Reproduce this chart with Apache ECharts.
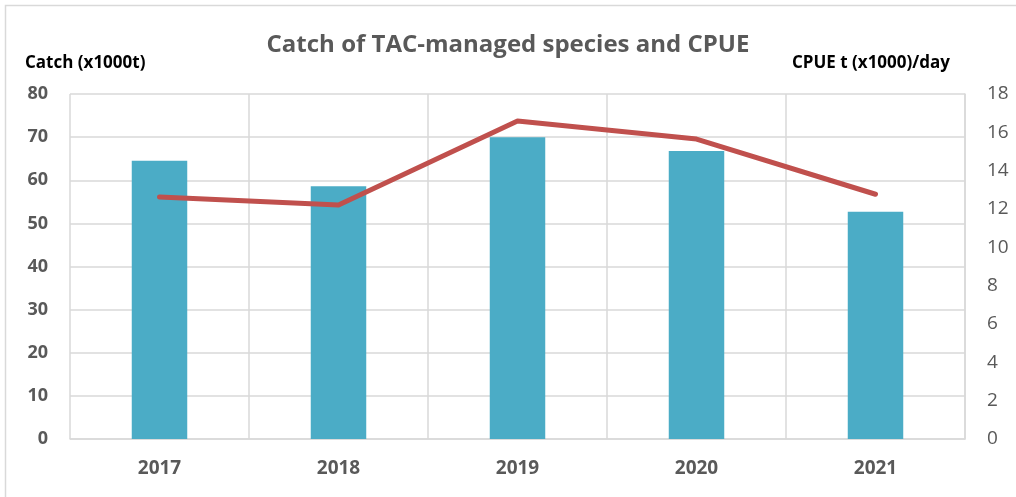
<!DOCTYPE html>
<html>
<head>
<meta charset="utf-8">
<script src="https://cdn.jsdelivr.net/npm/echarts@6/dist/echarts.min.js"></script>
<style>
  html, body { margin: 0; padding: 0; background: #fff; }
  #chart { width: 1016px; height: 497px; }
</style>
</head>
<body>
<div id="chart"></div>
<script>
const years = ['2017', '2018', '2019', '2020', '2021']
const catchValues = [64.5, 58.6, 70.0, 66.8, 52.7]
const cpueValues = [12.63, 12.21, 16.59, 15.65, 12.77]

const font = '"Open Sans", "Liberation Sans", sans-serif'

let myChart = echarts.init(document.getElementById('chart'))
myChart.setOption({
  animation: false,
  title: {
    text: 'Catch of TAC-managed species and CPUE',
    left: 'center',
    top: 28,
    textStyle: {
      fontFamily: font,
      fontSize: 24,
      fontWeight: 'bold',
      color: '#595959'
    }
  },
  graphic: [{
    type: 'rect',
    shape: { x: 5.5, y: 5.5, width: 1030, height: 520 },
    style: { fill: 'none', stroke: '#d9d9d9', lineWidth: 1.5 }
  }],
  grid: {
    left: 70,
    right: 51,
    top: 94,
    bottom: 58
  },
  xAxis: {
    type: 'category',
    data: years,
    axisLine: { lineStyle: { color: '#d9d9d9', width: 1.5 } },
    axisTick: { show: false },
    splitLine: { show: true, lineStyle: { color: '#d9d9d9', width: 1.5 } },
    axisLabel: {
      margin: 20,
      fontFamily: font,
      fontSize: 19,
      fontWeight: 'bold',
      color: '#595959'
    }
  },
  yAxis: [{
    type: 'value',
    min: 0,
    max: 80,
    interval: 10,
    name: 'Catch (x1000t)',
    nameLocation: 'end',
    nameGap: 22,
    nameTextStyle: {
      align: 'left',
      padding: [0, 0, 0, -45],
      fontFamily: font,
      fontSize: 17,
      fontWeight: 'bold',
      color: '#000'
    },
    axisLine: { show: false },
    axisTick: { show: false },
    splitLine: { lineStyle: { color: '#d9d9d9', width: 1.5 } },
    axisLabel: {
      margin: 22,
      fontFamily: font,
      fontSize: 18,
      fontWeight: 'bold',
      color: '#595959'
    }
  }, {
    type: 'value',
    min: 0,
    max: 18,
    interval: 2,
    name: 'CPUE t (x1000)/day',
    nameLocation: 'end',
    nameGap: 22,
    nameTextStyle: {
      align: 'right',
      padding: [0, 15, 0, 0],
      fontFamily: font,
      fontSize: 17,
      fontWeight: 'bold',
      color: '#000'
    },
    axisLine: { show: true, lineStyle: { color: '#d9d9d9', width: 1.5 } },
    axisTick: { show: false },
    splitLine: { show: false },
    axisLabel: {
      margin: 22,
      fontFamily: font,
      fontSize: 19,
      color: '#595959'
    }
  }],
  series: [{
    name: 'Catch',
    type: 'bar',
    data: catchValues,
    barWidth: '31%',
    itemStyle: { color: '#4bacc6' }
  }, {
    name: 'CPUE',
    type: 'line',
    yAxisIndex: 1,
    data: cpueValues,
    symbol: 'none',
    lineStyle: { color: '#c0504d', width: 5, cap: 'round', join: 'round' },
    itemStyle: { color: '#c0504d' }
  }]
})
</script>
</body>
</html>
